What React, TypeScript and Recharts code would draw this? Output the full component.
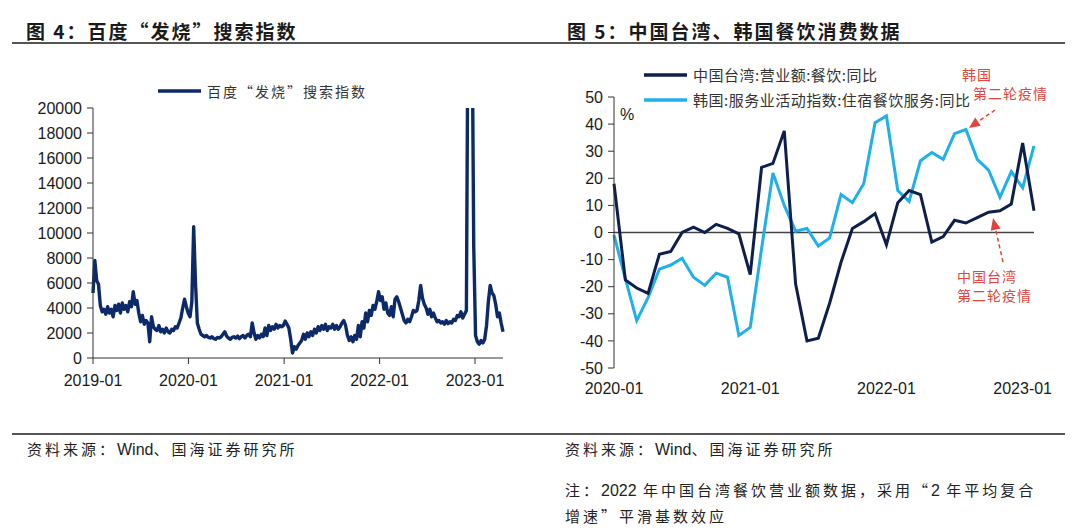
import React from "react";
import { LineChart, Line, XAxis, YAxis, ReferenceLine, Legend } from "recharts";

// Fig.4: Baidu "fever" search index, weekly readings starting 2019-01-01
const feverWeekly = [
  5200, 7800, 6200, 5900, 4200, 3700, 3900, 3500, 4100, 3600,
  3900, 3300, 4200, 3800, 4300, 3600, 4400, 3900, 4200, 3700,
  4500, 4100, 5300, 4300, 4600, 3600, 2900, 3400, 2700, 3000,
  2800, 1300, 3300, 2500, 2300, 2200, 2600, 2100, 2300, 2000,
  2400, 2100, 2000, 2300, 2200, 2500, 2400, 2800, 3200, 4000,
  4700, 4100, 3600, 3300, 4500, 10500, 6000, 2800, 2300, 1900,
  1800, 1700, 1800, 1650, 1600, 1700, 1550, 1500, 1650, 1600,
  1700, 1900, 2100, 1750, 1600, 1500, 1650, 1700, 1600, 1750,
  1550, 1700, 1800, 1600, 1800, 1900, 1700, 2800, 2000, 1500,
  1800, 1600, 1900, 1700, 2400, 1800, 2600, 2200, 2500, 2300,
  2700, 2400, 2600, 2500, 2600, 2950, 2700, 2400, 1500, 400,
  900, 700, 1000, 1200, 1400, 1900, 1500, 2000, 1700, 2100,
  1800, 2300, 2000, 2500, 2200, 2600, 2300, 2700, 2200, 2500,
  2400, 2700, 2300, 2600, 2300, 2500, 2800, 3000, 2600, 1800,
  1400, 1700, 1300, 1800, 1500, 2600, 1700, 2900, 2400, 3600,
  2900, 3800, 3400, 4200, 3900, 4500, 5300, 4600, 4900, 3900,
  4400, 3600, 3400, 4100, 3300, 4700, 4900, 4500, 4000, 3500,
  3000, 2800, 3100, 2900, 3300, 3800, 3700, 3800, 4600, 5800,
  4800, 4300, 4000, 3500, 3900, 3300, 3600, 3200, 2900, 3000,
  2800, 2900, 2700, 3000, 2750, 2900, 2800, 3100, 3000, 3400,
  3300, 3700, 3200, 3500, 3800, 32000, 36000, 30000, 9000, 1800,
  1300, 1100, 1400, 1200, 1500, 2600, 4500, 5800, 5200, 5000,
  4300, 3300, 3600, 2800, 2100,
];
const yearTickDays = [0, 365, 731, 1096, 1461];
const yearTickLabels = ["2019-01", "2020-01", "2021-01", "2022-01", "2023-01"];
const feverTicks = [0, 2000, 4000, 6000, 8000, 10000, 12000, 14000, 16000, 18000, 20000];

// Fig.5: catering YoY (%)
const months = [
  "2020-01", "2020-02", "2020-03", "2020-04", "2020-05", "2020-06",
  "2020-07", "2020-08", "2020-09", "2020-10", "2020-11", "2020-12",
  "2021-01", "2021-02", "2021-03", "2021-04", "2021-05", "2021-06",
  "2021-07", "2021-08", "2021-09", "2021-10", "2021-11", "2021-12",
  "2022-01", "2022-02", "2022-03", "2022-04", "2022-05", "2022-06",
  "2022-07", "2022-08", "2022-09", "2022-10", "2022-11", "2022-12",
  "2023-01", "2023-02",
];
const taiwanYoY = [
  18, -17.5, -20.5, -22.5, -8, -7, 0, 2, 0, 3, 1.5, -0.5,
  -15.5, 24, 25.5, 37.5, -19, -40, -39, -26, -11, 1.5, 4, 7,
  -4.5, 11, 15.5, 14, -3.5, -1.5, 4.5, 3.5, 5.5, 7.5, 8, 10.5,
  33, 8,
];
const koreaYoY = [
  -1, -17, -32.5, -24, -13.5, -12, -9.5, -16.5, -19.5, -15, -16.5, -38,
  -35, -6, 22, 10, 0.5, 1.5, -5, -2, 14, 11, 18, 40.5,
  43, 15.5, 11.5, 26.5, 29.5, 27, 36.5, 38, 27, 23, 13, 22.5,
  16.5, 32,
];
const yoyTicks = [-50, -40, -30, -20, -10, 0, 10, 20, 30, 40, 50];

const NAVY = "#0c2a6a";
const DARK = "#0e1f4d";
const LIGHT = "#1fb0ea";
const RED = "#e0463f";
const CJK = "'Noto Sans CJK SC', sans-serif";
const LATIN = "'Liberation Sans', Arial, sans-serif";

const feverData = feverWeekly.map((v, i) => ({ day: i * 7, value: v }));
const yoyData = months.map((m, i) => ({ month: m, tw: taiwanYoY[i], kr: koreaYoY[i] }));

const tickStyle = { fontSize: 16, fill: "#1a1a1a", fontFamily: LATIN };

const legendContent = (items: { label: string; color: string }[], fontSize: number, spacing: number) => () => (
  <div>
    {items.map((it) => (
      <div key={it.label} style={{ display: "flex", alignItems: "center", height: 25 }}>
        <svg width={43} height={6}>
          <line x1={0} y1={3} x2={43} y2={3} stroke={it.color} strokeWidth={3.5} />
        </svg>
        <span style={{ marginLeft: 6, fontSize, letterSpacing: spacing, color: "#333", fontFamily: CJK, whiteSpace: "nowrap" }}>
          {it.label}
        </span>
      </div>
    ))}
  </div>
);

const titleStyle: React.CSSProperties = {
  position: "absolute",
  top: 17,
  fontSize: 19,
  fontWeight: 700,
  letterSpacing: 2,
  fontFamily: CJK,
  color: "#1a1a1a",
  whiteSpace: "nowrap",
};

const noteStyle: React.CSSProperties = {
  position: "absolute",
  fontSize: 15,
  letterSpacing: 3,
  fontFamily: CJK,
  color: "#222",
  whiteSpace: "nowrap",
};

// latin runs inside the notes are set tight, like the reference
const tight: React.CSSProperties = { letterSpacing: 0, fontFamily: LATIN, fontSize: 16 };

export default function App() {
  return (
    <div style={{ position: "absolute", left: 0, top: 0, width: 1080, height: 531, background: "#fff", overflow: "hidden" }}>
      <div style={{ ...titleStyle, left: 26 }}>图 4：百度“发烧”搜索指数</div>
      <div style={{ ...titleStyle, left: 567 }}>图 5：中国台湾、韩国餐饮消费数据</div>
      <div style={{ position: "absolute", left: 12, top: 42, width: 1053, height: 1.5, background: "#555" }} />
      <div style={{ position: "absolute", left: 12, top: 433, width: 1053, height: 1.5, background: "#555" }} />

      <div style={{ position: "absolute", left: 0, top: 0 }}>
        <LineChart width={540} height={400} data={feverData} margin={{ top: 108, right: 37, bottom: 12, left: 33 }}>
          <XAxis
            type="number"
            dataKey="day"
            domain={[0, 1568]}
            ticks={yearTickDays}
            tickFormatter={(d: number) => yearTickLabels[yearTickDays.indexOf(d)]}
            tick={tickStyle}
            stroke="#333"
            tickSize={6}
            tickMargin={11}
            height={30}
          />
          <YAxis
            domain={[0, 20000]}
            ticks={feverTicks}
            allowDataOverflow
            tick={tickStyle}
            stroke="#333"
            tickSize={6}
            tickMargin={5}
            width={60}
          />
          <Legend
            layout="horizontal"
            verticalAlign="middle"
            align="center"
            wrapperStyle={{ left: 158, top: 78, width: "auto" }}
            content={legendContent([{ label: "百度“发烧”搜索指数", color: NAVY }], 14, 2)}
          />
          <Line
            dataKey="value"
            stroke={NAVY}
            strokeWidth={3.4}
            strokeLinejoin="round"
            dot={false}
            type="linear"
            isAnimationActive={false}
          />
        </LineChart>
      </div>

      <div style={{ position: "absolute", left: 540, top: 0 }}>
        <LineChart width={540} height={420} data={yoyData} margin={{ top: 97, right: 46, bottom: 22, left: 24 }}>
          <XAxis
            dataKey="month"
            interval={11}
            axisLine={false}
            tickLine={false}
            tick={tickStyle}
            tickSize={6}
            tickMargin={9}
            height={30}
          />
          <YAxis
            domain={[-50, 50]}
            ticks={yoyTicks}
            tick={tickStyle}
            stroke="#333"
            tickSize={6}
            tickMargin={5}
            width={50}
          />
          <ReferenceLine y={0} stroke="#444" strokeWidth={1.5} />
          <Legend
            layout="horizontal"
            verticalAlign="middle"
            align="center"
            wrapperStyle={{ left: 104, top: 62, width: "auto" }}
            content={legendContent(
              [
                { label: "中国台湾:营业额:餐饮:同比", color: DARK },
                { label: "韩国:服务业活动指数:住宿餐饮服务:同比", color: LIGHT },
              ],
              15,
              0.5
            )}
          />
          <Line dataKey="kr" stroke={LIGHT} strokeWidth={3} dot={false} type="linear" isAnimationActive={false} />
          <Line dataKey="tw" stroke={DARK} strokeWidth={3} dot={false} type="linear" isAnimationActive={false} />
        </LineChart>
      </div>

      <svg width={1080} height={531} style={{ position: "absolute", left: 0, top: 0, pointerEvents: "none" }}>
        <text x={620} y={120} fontSize={16} fontFamily={LATIN} fill="#1a1a1a">%</text>
        <g fill={RED} fontSize={14} fontFamily={CJK} letterSpacing={1}>
          <text x={962} y={80}>韩国</text>
          <text x={973} y={99}>第二轮疫情</text>
          <text x={957} y={282}>中国台湾</text>
          <text x={957} y={301}>第二轮疫情</text>
        </g>
        <line x1={995} y1={110} x2={978} y2={121.7} stroke={RED} strokeWidth={1.5} strokeDasharray="4 3" />
        <polygon points="969,128 980.8,125.8 975.2,117.6" fill={RED} />
        <line x1={1003} y1={262} x2={995.7} y2={229.7} stroke={RED} strokeWidth={1.5} strokeDasharray="4 3" />
        <polygon points="993,218 1000.6,228.6 990.8,230.8" fill={RED} />
      </svg>

      <div style={{ ...noteStyle, left: 27, top: 438 }}>
        资料来源：<span style={tight}>Wind</span>、国海证券研究所
      </div>
      <div style={{ ...noteStyle, left: 565, top: 438 }}>
        资料来源：<span style={tight}>Wind</span>、国海证券研究所
      </div>
      <div style={{ ...noteStyle, left: 565, top: 479 }}>
        注：<span style={tight}>2022</span> 年中国台湾餐饮营业额数据，采用“<span style={tight}>2</span> 年平均复合
      </div>
      <div style={{ ...noteStyle, left: 565, top: 505 }}>增速”平滑基数效应</div>
    </div>
  );
}
